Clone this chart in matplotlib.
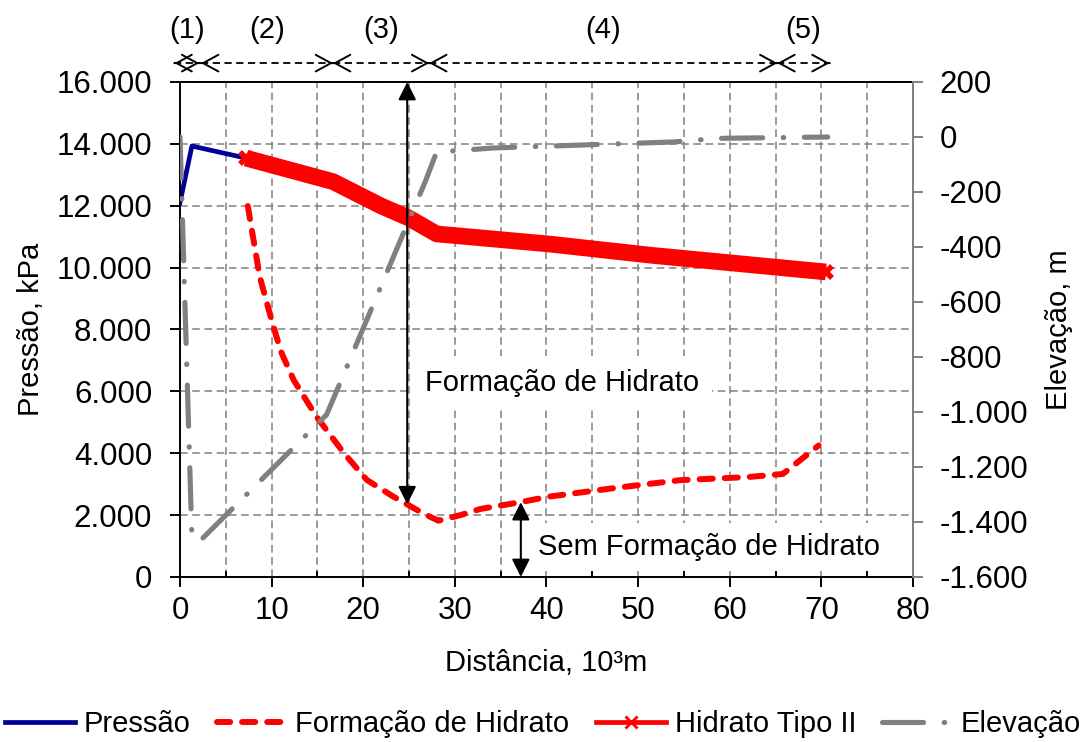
import matplotlib
matplotlib.use('Agg')
import matplotlib.pyplot as plt
from matplotlib.lines import Line2D
from matplotlib.ticker import MultipleLocator, FuncFormatter

plt.rcParams['font.family'] = ['Liberation Sans', 'DejaVu Sans']
plt.rcParams['font.size'] = 21

# Perfil de pressão ao longo do duto (10³ m, kPa)
dist_pressao = [0.0, 1.3, 7.2, 16.7, 21.9, 25.0, 28.0, 40.4, 51.4, 70.5]
pressao = [12100, 13930, 13540, 12780, 12000, 11600, 11090, 10760, 10400, 9860]

# Trecho onde ocorre hidrato tipo II
dist_hidrato = [7.2, 16.7, 21.9, 25.0, 28.0, 40.4, 51.4, 70.5]
hidrato_tipo2 = [13540, 12780, 12000, 11600, 11090, 10760, 10400, 9860]

# Curva de formação de hidrato
dist_formacao = [7.4, 8.7, 10.0, 11.0, 12.4, 14.9, 17.9, 20.4, 23.3, 24.9, 26.5,
                 28.2, 30.6, 32.8, 37.2, 40.1, 47.3, 54.6, 62.0, 65.8, 69.7]
formacao = [11990, 9710, 8300, 7300, 6370, 5180, 4000, 3135, 2595, 2330, 2060,
            1820, 2000, 2200, 2420, 2590, 2870, 3130, 3230, 3330, 4250]

# Elevação do duto (m)
dist_elev = [0.0, 1.3, 2.3, 16.0, 26.8, 28.0, 34.2, 53.9, 58.8, 70.7]
elevacao = [0, -1460, -1465, -1010, -160, -55, -40, -18, -5, 0]

# Trechos (1)-(5) no topo do gráfico
trechos = [(-0.6, 2.1), (2.3, 16.7), (16.7, 27.2), (27.2, 65.2), (65.2, 70.9)]
nomes_trechos = ['(1)', '(2)', '(3)', '(4)', '(5)']

# Setas verticais: x, pressão inicial, pressão final
seta_formacao = (24.8, 16000, 2350)
seta_sem_formacao = (37.2, 0, 2420)

AZUL = '#000099'
VERMELHO = '#FF0000'
CINZA = '#808080'

TRACO_VERM = (0, (2.2, 2.0))
TRACO_ELEV = (0, (8.0, 4.0, 0.1, 4.0))


def fmt_milhar(v, pos):
    return f'{v:,.0f}'.replace(',', '.')


fig = plt.figure(figsize=(10.83, 7.42), dpi=100)
ax = fig.add_axes([0.1662, 0.2224, 0.6768, 0.6671])
ax2 = ax.twinx()

ax.plot(dist_pressao, pressao, color=AZUL, lw=3.4, solid_joinstyle='round', zorder=2)
ax.plot(dist_formacao, formacao, color=VERMELHO, lw=4.3, ls=TRACO_VERM,
        dash_capstyle='round', zorder=3)
ax.plot(dist_hidrato, hidrato_tipo2, color=VERMELHO, lw=12, solid_joinstyle='round',
        solid_capstyle='butt', marker='x', markevery=[0, len(dist_hidrato) - 1],
        ms=9, mew=4, zorder=4)
ax2.plot(dist_elev, elevacao, color=CINZA, lw=3.7, ls=TRACO_ELEV,
         dash_capstyle='round', solid_joinstyle='round', zorder=2)

ax.set_xlim(0, 80)
ax.set_ylim(0, 16000)
ax2.set_ylim(-1600, 200)

ax.xaxis.set_major_locator(MultipleLocator(10))
ax.xaxis.set_minor_locator(MultipleLocator(5))
ax.yaxis.set_major_locator(MultipleLocator(2000))
ax.yaxis.set_major_formatter(FuncFormatter(fmt_milhar))
ax2.yaxis.set_major_locator(MultipleLocator(200))
ax2.yaxis.set_major_formatter(FuncFormatter(fmt_milhar))

ax.set_axisbelow(True)
grade = dict(color=CINZA, lw=1.1, ls=(0, (5, 3)))
ax.grid(True, which='major', axis='y', **grade)
ax.grid(True, which='both', axis='x', **grade)

ax.tick_params(axis='y', direction='out', length=7, width=1.4, pad=13, labelsize=22.5)
ax.tick_params(axis='x', which='major', direction='out', length=7, width=1.4, pad=7,
               labelsize=22.5)
ax.tick_params(axis='x', which='minor', direction='in', length=4, width=1.4)
ax2.tick_params(axis='y', direction='out', length=7, width=1.4, pad=12,
                color=CINZA, labelcolor='black', labelsize=22.5)

for lado in ['left', 'top', 'bottom']:
    ax.spines[lado].set_linewidth(1.4)
    ax.spines[lado].set_color('black')
    ax2.spines[lado].set_visible(False)
ax.spines['right'].set_visible(False)
ax2.spines['right'].set_color(CINZA)
ax2.spines['right'].set_linewidth(1.4)

ax.set_xlabel('Distância, 10³m', labelpad=16)
ax.set_ylabel('Pressão, kPa', labelpad=8)
ax2.set_ylabel('Elevação, m', labelpad=12)

# Trechos numerados acima do gráfico
y_setas = 16610
y_nomes = 17680
for (x0, x1), nome in zip(trechos, nomes_trechos):
    ax.plot([x0, x1], [y_setas, y_setas], color='black', lw=1.3, ls=(0, (4, 2.5)),
            clip_on=False)
    for ponta, origem in ((x0, x0 + 0.01), (x1, x1 - 0.01)):
        ax.annotate('', xy=(ponta, y_setas), xytext=(origem, y_setas),
                    arrowprops=dict(arrowstyle='->,head_length=0.55,head_width=0.3',
                                    mutation_scale=20, lw=1.4, color='black',
                                    shrinkA=0, shrinkB=0),
                    annotation_clip=False)
    ax.text((x0 + x1) / 2, y_nomes, nome, ha='center', va='center')

# Setas de região com e sem formação de hidrato
for xs, p0, p1 in (seta_formacao, seta_sem_formacao):
    ax2.annotate('', xy=(xs, p1), xytext=(xs, p0), xycoords=ax.transData,
                 textcoords=ax.transData,
                 arrowprops=dict(arrowstyle='<|-|>,head_length=0.54,head_width=0.27',
                                 mutation_scale=20, lw=1.5, color='black',
                                 shrinkA=0, shrinkB=0),
                 zorder=5)

ax2.text(41.7, 6270, 'Formação de Hidrato', transform=ax.transData, ha='center',
         va='center', bbox=dict(facecolor='white', edgecolor='none', pad=9.5), zorder=4)
ax2.text(57.7, 970, 'Sem Formação de Hidrato', transform=ax.transData, ha='center',
         va='center', bbox=dict(facecolor='white', edgecolor='none', pad=7), zorder=4)

handles = [
    Line2D([], [], color=AZUL, lw=3.4),
    Line2D([], [], color=VERMELHO, lw=4.3, ls=TRACO_VERM, dash_capstyle='round'),
    Line2D([], [], color=VERMELHO, lw=3.4, marker='x', ms=9, mew=2),
    Line2D([], [], color=CINZA, lw=3.7, ls=TRACO_ELEV, dash_capstyle='round'),
]
rotulos = ['Pressão', 'Formação de Hidrato', 'Hidrato Tipo II', 'Elevação']
fig.legend(handles, rotulos, loc='center', bbox_to_anchor=(0.5015, 0.024), ncol=4,
           frameon=False, handlelength=2.4, handletextpad=0.3, columnspacing=0.9,
           borderaxespad=0, borderpad=0)

fig.savefig('out.png', dpi=100)
